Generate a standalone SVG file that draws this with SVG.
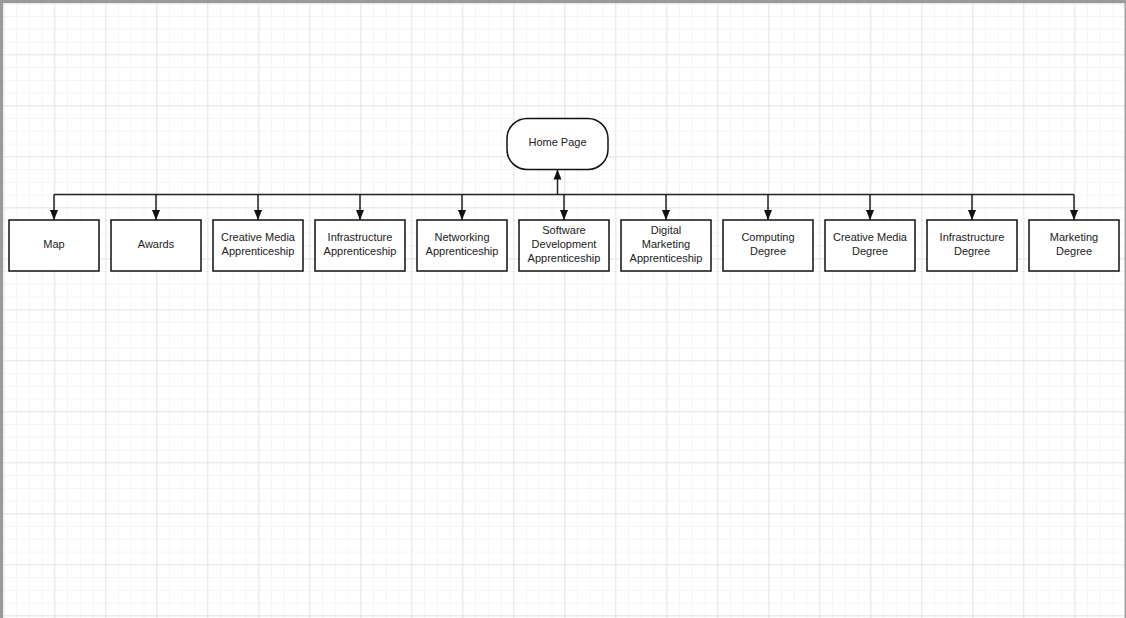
<svg xmlns="http://www.w3.org/2000/svg" width="1126" height="618" viewBox="0 0 1126 618">
<defs>
<pattern id="minor" x="3.3" y="3.3" width="12.75" height="12.75" patternUnits="userSpaceOnUse">
<path d="M0 0H12.75M0 0V12.75" fill="none" stroke="#ebebeb" stroke-width="1"/>
</pattern>
<pattern id="major" x="3.3" y="3.3" width="51" height="51" patternUnits="userSpaceOnUse">
<path d="M0 0H51M0 0V51" fill="none" stroke="#d6d6d6" stroke-width="1"/>
</pattern>
<marker id="arr" viewBox="0 0 10 10" refX="10" refY="5" markerWidth="10" markerHeight="10" markerUnits="userSpaceOnUse" orient="auto">
<path d="M0 1L10 5L0 9Z" fill="#111"/>
</marker>
<style>
.box{fill:#fff;stroke:#111;stroke-width:1.5}
.lbl{font-family:"Liberation Sans",Arial,sans-serif;font-size:11px;fill:#222;text-anchor:middle}
.ln{fill:none;stroke:#222;stroke-width:1.5}
</style>
</defs>
<rect width="1126" height="618" fill="#fff"/>
<rect width="1126" height="618" fill="url(#minor)"/>
<rect width="1126" height="618" fill="url(#major)"/>
<rect x="0" y="0" width="1126" height="3" fill="#9a9a9a"/>
<rect x="0" y="0" width="3" height="618" fill="#9a9a9a"/>
<rect x="1124.5" y="0" width="1.5" height="618" fill="#a0a0a0"/>

<g id="connectors">
<path class="ln" d="M54 194.5H1074"/>
<path class="ln" d="M557.5 194.5V169.5" marker-end="url(#arr)"/>
<path class="ln" d="M54 194.5V220" marker-end="url(#arr)"/>
<path class="ln" d="M156 194.5V220" marker-end="url(#arr)"/>
<path class="ln" d="M258 194.5V220" marker-end="url(#arr)"/>
<path class="ln" d="M360 194.5V220" marker-end="url(#arr)"/>
<path class="ln" d="M462 194.5V220" marker-end="url(#arr)"/>
<path class="ln" d="M564 194.5V220" marker-end="url(#arr)"/>
<path class="ln" d="M666 194.5V220" marker-end="url(#arr)"/>
<path class="ln" d="M768 194.5V220" marker-end="url(#arr)"/>
<path class="ln" d="M870 194.5V220" marker-end="url(#arr)"/>
<path class="ln" d="M972 194.5V220" marker-end="url(#arr)"/>
<path class="ln" d="M1074 194.5V220" marker-end="url(#arr)"/>
</g>

<g id="home">
<rect class="box" x="507" y="118.5" width="101" height="51" rx="20" ry="20"/>
<text class="lbl" x="557.5" y="146">Home Page</text>
</g>
<g id="map">
<rect class="box" x="9" y="220" width="90" height="51"/>
<text class="lbl" x="54" y="248">Map</text>
</g>
<g id="awards">
<rect class="box" x="111" y="220" width="90" height="51"/>
<text class="lbl" x="156" y="248">Awards</text>
</g>
<g id="creative-media-app">
<rect class="box" x="213" y="220" width="90" height="51"/>
<text class="lbl" x="258" y="241">Creative Media</text>
<text class="lbl" x="258" y="255">Apprenticeship</text>
</g>
<g id="infrastructure-app">
<rect class="box" x="315" y="220" width="90" height="51"/>
<text class="lbl" x="360" y="241">Infrastructure</text>
<text class="lbl" x="360" y="255">Apprenticeship</text>
</g>
<g id="networking-app">
<rect class="box" x="417" y="220" width="90" height="51"/>
<text class="lbl" x="462" y="241">Networking</text>
<text class="lbl" x="462" y="255">Apprenticeship</text>
</g>
<g id="software-dev-app">
<rect class="box" x="519" y="220" width="90" height="51"/>
<text class="lbl" x="564" y="234">Software</text>
<text class="lbl" x="564" y="248">Development</text>
<text class="lbl" x="564" y="262">Apprenticeship</text>
</g>
<g id="digital-marketing-app">
<rect class="box" x="621" y="220" width="90" height="51"/>
<text class="lbl" x="666" y="234">Digital</text>
<text class="lbl" x="666" y="248">Marketing</text>
<text class="lbl" x="666" y="262">Apprenticeship</text>
</g>
<g id="computing-degree">
<rect class="box" x="723" y="220" width="90" height="51"/>
<text class="lbl" x="768" y="241">Computing</text>
<text class="lbl" x="768" y="255">Degree</text>
</g>
<g id="creative-media-degree">
<rect class="box" x="825" y="220" width="90" height="51"/>
<text class="lbl" x="870" y="241">Creative Media</text>
<text class="lbl" x="870" y="255">Degree</text>
</g>
<g id="infrastructure-degree">
<rect class="box" x="927" y="220" width="90" height="51"/>
<text class="lbl" x="972" y="241">Infrastructure</text>
<text class="lbl" x="972" y="255">Degree</text>
</g>
<g id="marketing-degree">
<rect class="box" x="1029" y="220" width="90" height="51"/>
<text class="lbl" x="1074" y="241">Marketing</text>
<text class="lbl" x="1074" y="255">Degree</text>
</g>
</svg>
